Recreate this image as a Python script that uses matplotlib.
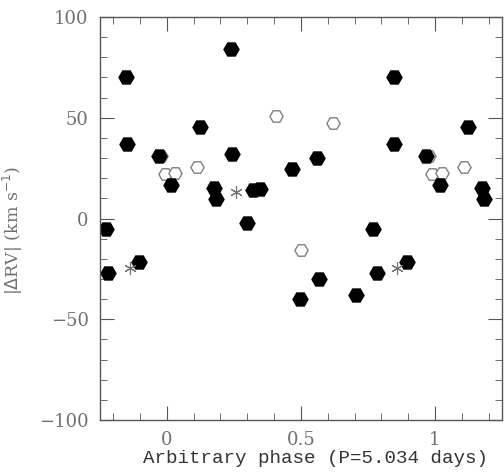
import numpy as np
import matplotlib.pyplot as plt
from matplotlib.ticker import MultipleLocator

# filled hexagons: phase, |dRV|
filled_phase = [-0.226, -0.219, -0.152, -0.148, -0.104, -0.030, 0.017, 0.124, 0.177, 0.183,
                0.241, 0.244, 0.300, 0.320, 0.348, 0.467, 0.496, 0.559, 0.567, 0.707,
                0.770, 0.783, 0.846, 0.848, 0.894, 0.968, 1.017, 1.124, 1.177, 1.183]
filled_rv = [-5, -27, 70, 37, -21.5, 31, 16.5, 45.5, 15, 9.5,
             84, 32, -2, 14, 14.5, 24.5, -39.7, 30, -30, -38,
             -5, -27, 70, 37, -21.5, 31, 16.5, 45.5, 15, 9.5]

# open hexagons
open_phase = [-0.020, -0.007, 0.030, 0.111, 0.407, 0.500, 0.618, 0.976, 0.989, 1.026, 1.107]
open_rv = [31, 22, 22.5, 25.5, 51, -15.5, 47.5, 31, 22, 22.5, 25.5]

# asterisks
star_phase = [-0.137, 0.259, 0.859]
star_rv = [-24.5, 13, -24.5]

GREY = "#555555"
plt.rcParams["font.family"] = ["DejaVu Serif"]

fig = plt.figure(figsize=(5.04, 4.73), dpi=100)
ax = fig.add_axes([0.198, 0.112, 0.798, 0.852])

ax.plot(open_phase, open_rv, "H", ms=9.5, mfc="white", mec="#808080", mew=1.0, ls="none")
ax.plot(filled_phase, filled_rv, "H", ms=10.8, mfc="black", mec="black", ls="none")
ax.plot(star_phase, star_rv, marker=(6, 2, 0), ms=9, color="#707070", mew=0.8, ls="none")

ax.set_xlim(-0.25, 1.25)
ax.set_ylim(-100, 100)
ax.xaxis.set_minor_locator(MultipleLocator(0.1))
ax.yaxis.set_minor_locator(MultipleLocator(10))
ax.set_xticks([0, 0.5, 1])
ax.set_xticklabels(["0", "0.5", "1"])
ax.set_yticks([-100, -50, 0, 50, 100])
ax.set_yticklabels(["\u2212100", "\u221250", "0", "50", "100"])

ax.tick_params(which="both", direction="in", top=True, right=True, colors=GREY,
               labelsize=13, labelcolor="#707070")
ax.tick_params(which="major", length=10, width=0.8, pad=8)
ax.tick_params(which="minor", length=5, width=0.6)
for s in ax.spines.values():
    s.set_color(GREY)
    s.set_linewidth(1.0)

ax.set_xlabel("Arbitrary phase (P=5.034 days)", fontsize=13.8, family="Liberation Mono",
              color="#333333")
ax.xaxis.set_label_coords(0.537, -0.075)
ax.set_ylabel(r"|$\Delta$RV| (km s$^{-1}$)", fontsize=12.5, color="#707070", labelpad=2)
ax.yaxis.set_label_coords(-0.185, 0.47)

fig.savefig("out.png", dpi=100, facecolor="white")
